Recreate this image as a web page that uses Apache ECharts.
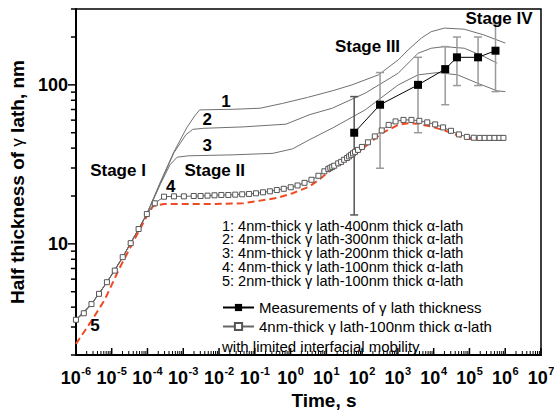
<!DOCTYPE html>
<html><head><meta charset="utf-8">
<script src="https://cdn.jsdelivr.net/npm/echarts@6/dist/echarts.min.js"></script>
<style>html,body{margin:0;padding:0;background:#fff}#c{width:554px;height:410px}</style>
</head><body><div id="c"></div>
<script>
// ---- data (time in s, half thickness in nm) ----
const curve1 = [[1e-6,3.33],[2.72e-6,4.18],[7.35e-6,5.74],[2.03e-5,8.25],[5.64e-5,12.4],[9.6e-5,15.4],[2.24e-4,24.2],[5.48e-4,37.9],[1.25e-3,53.7],[2.09e-3,63.8],[2.87e-3,69.6],[0.025,70.2],[0.14,71.3],[0.604,76.5],[2.97,83.4],[14.6,91.7],[52.2,100],[286,115.6],[1023,143.6],[1933,166],[4510,196.8],[8530,216],[19900,227.5],[71100,224],[254000,206],[1.01e6,183]];
const curve2 = [[1e-6,3.33],[2.72e-6,4.18],[7.35e-6,5.74],[2.03e-5,8.25],[5.64e-5,12.4],[9.6e-5,15.4],[2.24e-4,23.8],[5.48e-4,37.4],[1.18e-3,48.5],[1.84e-3,52.5],[3.7e-3,53.3],[0.0473,54.4],[0.746,56.6],[3.31,64.8],[14.6,71.3],[122,88.7],[1023,118.5],[3655,158],[8530,170],[19900,174],[71100,170],[254000,150.7],[597000,136.9]];
const curve3 = [[1e-6,3.33],[2.72e-6,4.18],[7.35e-6,5.74],[2.03e-5,8.25],[5.64e-5,12.4],[9.6e-5,15.4],[2.24e-4,23.5],[4.25e-4,31.4],[6.76e-4,35.1],[1.43e-3,35.8],[0.025,36.3],[0.32,37.1],[1.14,39.6],[3.31,45.1],[14.6,53.4],[122,69.6],[1023,100],[3655,115.6],[13060,119.5],[46700,115.6],[167000,102.5],[597000,91.7],[1.01e6,90.7]];
const limitedMobility = [[1e-6,3.33],[1.66e-6,3.66],[2.72e-6,4.18],[4.42e-6,4.85],[7.35e-6,5.74],[1.22e-5,6.79],[2.03e-5,8.25],[3.39e-5,10.1],[5.64e-5,12.4],[9.6e-5,15.4],[1.6e-4,18.0],[2.9e-4,19.8],[5.5e-4,19.9],[1.04e-3,19.9],[1.96e-3,20.0],[3.05e-3,20.0],[4.77e-3,20.1],[7.46e-3,20.2],[1.16e-2,20.3],[1.82e-2,20.3],[2.84e-2,20.4],[4.44e-2,20.5],[6.93e-2,20.6],[0.108,20.8],[0.169,21.1],[0.264,21.4],[0.412,21.8],[0.644,22.2],[1.01,22.7],[1.57,23.3],[2.45,24.2],[3.83,25.3],[5.99,26.8],[8.77,28.6],[11.3,29.6],[12.9,30.1],[14.6,30.5],[16.6,31.0],[21.4,32.1],[25.9,32.8],[31.4,33.8],[38.0,34.7],[43.2,35.5],[49.0,36.3],[55.7,37.1],[63.2,37.9],[76.6,39.0],[98.7,40.7],[145,43.5],[226,47.4],[353,51.7],[551,56.0],[861,58.9],[1432,60.2],[2387,60.2],[3970,59.4],[6607,58.1],[10990,56.4],[18320,54.0],[30480,51.4],[50700,48.8],[84500,47.1],[131800,46.5],[193000,46.4],[266000,46.4],[366000,46.4],[502000,46.4],[692000,46.4],[891000,46.4]];
const curve5 = [[1e-6,2.35],[2.6e-6,3.23],[6.34e-6,4.44],[1.65e-5,7.03],[4.29e-5,10.6],[1e-4,15.2],[1.44e-4,17.3],[2.9e-4,17.8],[5.68e-3,17.8],[0.0473,18.0],[0.394,19.4],[1.14,20.8],[3.31,22.9],[6.27,25.3],[11.8,28.5],[52.2,35.4],[122,40.9],[353,49.7],[1023,56.0],[1933,57.4],[3655,56.9],[8530,54.7],[24700,50.9],[71100,46.2],[167000,45.1],[820000,45.1]];
const measTime = [60, 317, 3650, 21000, 44700, 174000, 535000];
const measThickness = [50, 75, 100, 125.6, 149, 149, 164];
const measLow = [15.2, 29.9, 50, 75, 99, 99, 90.7];
const measHigh = [84.4, 119.5, 149, 174, 200, 200, 242];
const xTickExponents = [-6,-5,-4,-3,-2,-1,0,1,2,3,4,5,6,7];
const xMinorMultipliers = [2,3,4,5,6,7,8,9];
const yMajorTicks = [10, 100];
const yMinorTicks = [2,3,4,5,6,7,8,9,20,30,40,50,60,70,80,90,200,300];
const curveNames = ['1: 4nm-thick γ lath-400nm thick α-lath','2: 4nm-thick γ lath-300nm thick α-lath','3: 4nm-thick γ lath-200nm thick α-lath','4: 4nm-thick γ lath-100nm thick α-lath','5: 2nm-thick γ lath-100nm thick α-lath'];
const measName = 'Measurements of γ lath thickness';
const modelName = '4nm-thick γ lath-100nm thick α-lath';
const modelName2 = 'with limited interfacial mobility';

const FF = 'Liberation Sans, Arial, sans-serif';
const chart = echarts.init(document.getElementById('c'), null, {renderer:'svg'});

const X_MIN = 1e-6, Y_MIN = 2;
const yTickData = yMajorTicks.map(v=>[v,1]).concat(yMinorTicks.map(v=>[v,0]));
const xTickData = [];
xTickExponents.forEach(e=>{
  xTickData.push([Math.pow(10,e), 1, e]);
  if (e < 7) xMinorMultipliers.forEach(m=>xTickData.push([m*Math.pow(10,e), 0, e]));
});

const bold = (t, x, y, size) => ({type:'text', x, y, style:{text:t, font:'bold '+(size||17)+'px '+FF, fill:'#000', align:'center', verticalAlign:'middle'}, z:50});
const legendLines = curveNames.map((t,i)=>({type:'text', x:222, y:225.5+i*13.9, style:{text:t, font:'14.5px '+FF, fill:'#000', align:'left', verticalAlign:'middle'}, z:50}));

function xLabel(cx, cy, e){
  const sup = String(e);
  const supW = sup.split('').reduce((s,ch)=>s+(ch==='-'?0.333:0.556)*11, 0);
  const baseW = 2*0.556*18;
  const x0 = cx - (baseW + supW + 0.5)/2;
  return [
    {type:'text', x:x0, y:cy+22.5, style:{text:'10', font:'bold 18px '+FF, fill:'#000', align:'left', verticalAlign:'middle'}},
    {type:'text', x:x0+baseW+0.5, y:cy+15.5, style:{text:sup, font:'bold 11px '+FF, fill:'#000', align:'left', verticalAlign:'middle'}}
  ];
}

chart.setOption({
  animation:false,
  grid:{left:71, right:13, top:9, bottom:55, show:true, borderColor:'#000', borderWidth:1.5, backgroundColor:'#fff'},
  xAxis:{type:'log', logBase:10, min:X_MIN, max:1e7,
    axisLine:{lineStyle:{color:'#000', width:2}},
    axisTick:{show:false}, minorTick:{show:false}, axisLabel:{show:false},
    splitLine:{show:false}, minorSplitLine:{show:false}
  },
  yAxis:{type:'log', logBase:10, min:Y_MIN, max:300,
    name:'{b|Half thickness of }{g|γ}{b| lath, nm}', nameLocation:'middle', nameGap:42,
    nameTextStyle:{rich:{b:{fontFamily:FF, fontWeight:'bold', fontSize:19, color:'#000'}, g:{fontFamily:FF, fontSize:17, color:'#000'}}},
    axisLine:{lineStyle:{color:'#000', width:2}},
    axisTick:{show:false}, splitLine:{show:false},
    axisLabel:{margin:8, fontFamily:FF, fontWeight:'bold', fontSize:18, color:'#000',
      formatter:v=>{const e=Math.log10(v); return Math.abs(e-Math.round(e))<1e-6 ? String(Math.round(v)) : '';}}
  },
  legend:{data:[measName, modelName], orient:'vertical', left:222, top:300, padding:0, itemWidth:31, itemHeight:9, itemGap:4, z:20,
    textStyle:{fontFamily:FF, fontSize:15, color:'#000'}},
  graphic:[...legendLines,
    {type:'text', x:222, y:346, style:{text:modelName2, font:'15px '+FF, fill:'#000', align:'left', verticalAlign:'middle'}, z:50},
    bold('Time, s',324,400,19),
    bold('Stage I',118,170.7), bold('Stage II',214.7,170.7), bold('Stage III',367.5,46), bold('Stage IV',499,18.3),
    bold('1',226,101.7), bold('2',207.3,119.3), bold('3',207.3,145), bold('4',170.7,186.7), bold('5',95,325)
  ],
  series:[
    {type:'custom', name:'yticks', data:yTickData, clip:false, silent:true, encode:{y:0}, z:10,
      renderItem:(p,api)=>{const c=api.coord([X_MIN, api.value(0)]); const L=api.value(1)?8:5;
        return {type:'line', shape:{x1:c[0]-L, y1:c[1], x2:c[0], y2:c[1]}, style:{stroke:'#000', lineWidth:1.5}};}},
    {type:'custom', name:'xticks', data:xTickData, clip:false, silent:true, encode:{x:0}, z:10,
      renderItem:(p,api)=>{const c=api.coord([api.value(0), Y_MIN]); const major=api.value(1);
        const line={type:'line', shape:{x1:c[0], y1:c[1], x2:c[0], y2:c[1]-(major?7:4)}, style:{stroke:'#000', lineWidth:major?1.5:1}};
        if(!major) return line;
        return {type:'group', children:[line].concat(xLabel(c[0], c[1], api.value(2)))};}},
    {type:'line', name:'c1', data:curve1, showSymbol:false, symbol:'none', lineStyle:{color:'#707070', width:1}, z:2},
    {type:'line', name:'c2', data:curve2, showSymbol:false, symbol:'none', lineStyle:{color:'#707070', width:1}, z:2},
    {type:'line', name:'c3', data:curve3, showSymbol:false, symbol:'none', lineStyle:{color:'#707070', width:1}, z:2},
    {type:'line', name:'c5', data:curve5, showSymbol:false, symbol:'none', lineStyle:{color:'#f04a22', width:2, type:[7,4]}, z:3},
    {type:'custom', name:'err', clip:false, silent:true, z:4,
      data:measTime.map((t,i)=>[t, measLow[i], measHigh[i]]), encode:{x:0, y:[1,2]},
      renderItem:(p,api)=>{const t=api.value(0); const lo=api.coord([t, api.value(1)]); const hi=api.coord([t, api.value(2)]); const w=4;
        const st={stroke: p.dataIndex===0?'#555':'#9a9a9a', lineWidth:1.5};
        return {type:'group', children:[
          {type:'line', shape:{x1:lo[0], y1:lo[1], x2:hi[0], y2:hi[1]}, style:st},
          {type:'line', shape:{x1:lo[0]-w, y1:lo[1], x2:lo[0]+w, y2:lo[1]}, style:st},
          {type:'line', shape:{x1:hi[0]-w, y1:hi[1], x2:hi[0]+w, y2:hi[1]}, style:st}]};}},
    {type:'line', name:modelName, data:limitedMobility, symbol:'rect', symbolSize:5, showAllSymbol:true,
      lineStyle:{color:'#666', width:1}, itemStyle:{color:'#fff', borderColor:'#555', borderWidth:1}, z:5},
    {type:'line', name:measName, data:measTime.map((t,i)=>[t, measThickness[i]]), symbol:'rect', symbolSize:8,
      lineStyle:{color:'#000', width:1}, itemStyle:{color:'#000'}, z:6}
  ]
});
</script></body></html>
